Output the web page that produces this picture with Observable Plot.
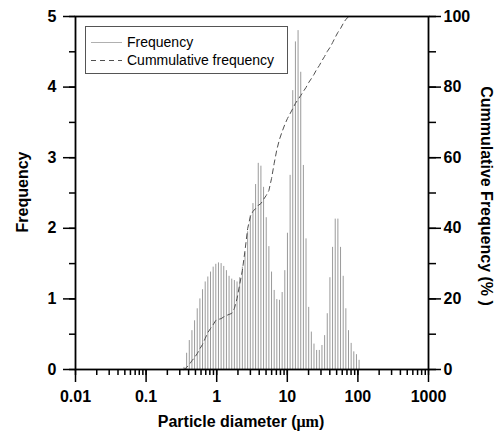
<!DOCTYPE html>
<html><head><meta charset="utf-8">
<script src="https://cdn.jsdelivr.net/npm/d3@7"></script>
<script src="https://cdn.jsdelivr.net/npm/@observablehq/plot@0.6"></script>
<style>
body{margin:0;background:#fff;}
#wrap{position:relative;width:498px;height:434px;}
</style></head><body><div id="wrap"></div>
<script>
// Particle diameter (µm) of each size class
const diameters = [0.344,0.375,0.409,0.446,0.486,0.530,0.578,0.630,0.687,0.749,
  0.817,0.891,0.971,1.059,1.155,1.259,1.373,1.497,1.633,1.780,
  1.941,2.117,2.308,2.517,2.744,2.992,3.263,3.557,3.879,4.230,
  4.612,5.029,5.484,5.980,6.520,7.110,7.752,8.453,9.218,10.05,
  10.96,11.95,13.03,14.21,15.50,16.90,18.42,20.09,21.90,23.88,
  26.04,28.40,30.97,33.77,36.82,40.15,43.78,47.74,52.06,56.76,
  61.90,67.50,73.60,80.26,87.51,95.42,104.0];
// Frequency of each size class
const frequency = [0.03,0.23,0.41,0.55,0.69,0.86,1.00,1.13,1.24,1.31,
  1.38,1.45,1.49,1.51,1.50,1.46,1.40,1.32,1.28,1.26,
  1.24,1.30,1.45,1.65,1.95,2.18,2.35,2.62,2.92,2.88,
  2.58,2.15,1.74,1.38,1.12,0.99,0.98,1.09,1.40,1.93,
  2.75,3.95,4.64,4.80,4.21,2.89,1.85,0.88,0.53,0.36,
  0.27,0.27,0.34,0.48,0.79,1.30,1.73,2.13,2.13,1.73,
  1.32,0.86,0.55,0.37,0.25,0.21,0.13];
// Cumulative frequency (%)
const cumulative = [0,0.6,1.4,2.5,3.4,4.5,5.9,7.1,8.8,10.5,
  11.6,12.7,13.9,14.2,14.4,14.9,15.3,15.6,15.9,17.3,
  20.1,24.1,28.0,33.7,39.9,43.3,44.8,45.6,46.5,47.0,
  48.2,49.3,50.7,54.1,58.4,62.3,65.2,67.4,69.4,71.1,
  72.5,73.9,75.4,76.5,77.6,78.8,79.9,81.3,82.4,83.6,
  85.0,86.1,87.5,88.7,90.1,91.2,92.6,94.1,95.5,96.6,
  98.0,99.2,99.9,100,100,100,100];

const xTickValues = [0.01,0.1,1,10,100,1000];
const xTickLabels = ["0.01","0.1","1","10","100","1000"];
const yTickValues = [0,1,2,3,4,5];
const yTickLabels = ["0","1","2","3","4","5"];
const cumTickLabels = ["0","20","40","60","80","100"];
const cumMax = 100;
const yMax = 5;
const legendLabels = ["Frequency","Cummulative frequency"];
const xTitle = "Particle diameter (";
const xTitleUnit = "μm";
const yTitle = "Frequency";
const y2Title = "Cummulative Frequency (% )";

const data = diameters.map((d,i)=>({d, f: frequency[i], c: cumulative[i]}));
const pctToY = p => p * yMax / cumMax;

const plot = Plot.plot({
  width:498, height:434, marginLeft:75, marginRight:70, marginTop:16, marginBottom:65,
  style:{fontFamily:"'Liberation Sans', Arial, sans-serif", fontSize:"16px", fontWeight:"bold", color:"#000", background:"#fff"},
  x:{type:"log", domain:[0.01,1000], label:null},
  y:{domain:[0,yMax], label:null},
  marks:[
    Plot.ruleX(data,{x:"d", y1:0, y2:"f", stroke:"#9a9a9a", strokeWidth:1}),
    Plot.line(data,{x:"d", y:d=>pctToY(d.c), stroke:"#505050", strokeWidth:1, strokeDasharray:"5,4"}),
    Plot.axisX({ticks:60, tickFormat:()=>"", tickSize:6, strokeWidth:1.5, label:null}),
    Plot.axisX({ticks:xTickValues, tickFormat:d=>xTickLabels[xTickValues.indexOf(d)], tickSize:13, tickPadding:8, strokeWidth:1.5, label:null}),
    Plot.axisY({ticks:10, tickFormat:()=>"", tickSize:6, strokeWidth:1.5, label:null}),
    Plot.axisY({ticks:yTickValues, tickFormat:d=>yTickLabels[yTickValues.indexOf(d)], tickSize:12, tickPadding:7, strokeWidth:1.5, label:null}),
    Plot.axisY({anchor:"right", ticks:10, tickFormat:()=>"", tickSize:7, strokeWidth:1.5, label:null}),
    Plot.axisY({anchor:"right", ticks:yTickValues, tickFormat:d=>cumTickLabels[yTickValues.indexOf(d)], tickSize:12, tickPadding:3, strokeWidth:1.5, label:null}),
    Plot.frame({stroke:"#000", strokeWidth:1.8})
  ]
});
document.getElementById("wrap").appendChild(plot);

const svg = d3.select(plot);
// Axis titles
const xt = svg.append("text").attr("x",241).attr("y",427).attr("text-anchor","middle")
  .attr("font-size","16px").attr("font-weight","bold").attr("fill","#000");
xt.append("tspan").text(xTitle);
xt.append("tspan").attr("font-family","'Liberation Serif', 'Times New Roman', serif").text(xTitleUnit);
xt.append("tspan").text(")");
svg.append("text").attr("transform","translate(28,192) rotate(-90)").attr("text-anchor","middle")
  .attr("font-size","16px").attr("font-weight","bold").attr("fill","#000").text(yTitle);
svg.append("text").attr("transform","translate(481,196) rotate(90)").attr("text-anchor","middle")
  .attr("font-size","16px").attr("font-weight","bold").attr("fill","#000").text(y2Title);

// Legend
const lg = svg.append("g").attr("font-weight","normal").attr("font-size","14px").attr("text-anchor","start");
lg.append("rect").attr("x",85.5).attr("y",26.5).attr("width",202).attr("height",47)
  .attr("fill","#fff").attr("stroke","#555").attr("stroke-width",1);
lg.append("line").attr("x1",91).attr("x2",122).attr("y1",42.5).attr("y2",42.5)
  .attr("stroke","#b0b0b0").attr("stroke-width",1);
lg.append("line").attr("x1",91).attr("x2",122).attr("y1",60.5).attr("y2",60.5)
  .attr("stroke","#505050").attr("stroke-width",1).attr("stroke-dasharray","5,4");
lg.append("text").attr("x",127).attr("y",47).attr("text-anchor","start").attr("fill","#000").text(legendLabels[0]);
lg.append("text").attr("x",127).attr("y",65).attr("text-anchor","start").attr("fill","#000").text(legendLabels[1]);
</script></body></html>
